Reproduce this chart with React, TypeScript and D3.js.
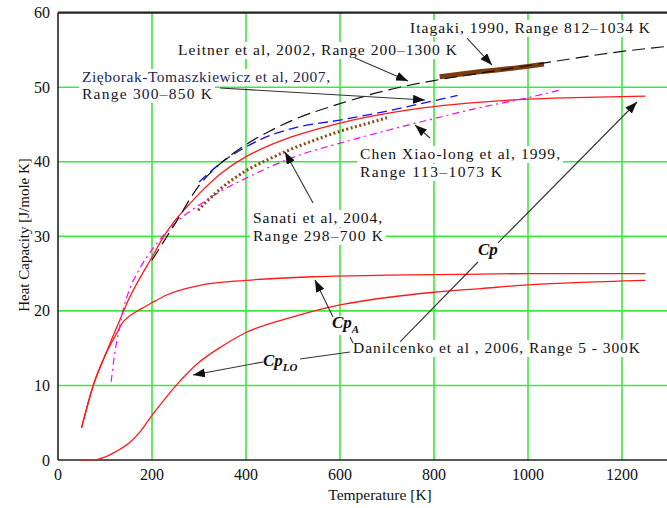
import React from "react";
import * as d3 from "d3";

// ---------- data ----------
const xTicks = [0, 200, 400, 600, 800, 1000, 1200];
const yTicks = [0, 10, 20, 30, 40, 50, 60];

const cpT = [50, 75, 100, 125, 150, 175, 200, 225, 250, 275, 300, 350, 400, 450, 500, 600, 700, 800, 900, 1000, 1100, 1250];
const cpV = [4.3, 10, 14, 17.8, 21.5, 24.5, 27.2, 30.0, 32.2, 34.0, 35.7, 38.6, 40.7, 42.2, 43.4, 45.2, 46.5, 47.4, 48.0, 48.4, 48.6, 48.8];

const cpAT = [50, 75, 100, 125, 137, 150, 175, 200, 230, 300, 400, 550, 700, 850, 1000, 1250];
const cpAV = [4.3, 10, 14, 17.0, 18.4, 19.2, 20.2, 21.1, 22.1, 23.4, 24.1, 24.6, 24.8, 24.9, 25.0, 25.0];

const cpLOT = [50, 80, 100, 125, 150, 175, 200, 225, 250, 300, 350, 400, 500, 600, 700, 800, 900, 1000, 1100, 1250];
const cpLOV = [0, 0.05, 0.4, 1.2, 2.2, 3.8, 6.0, 8.0, 9.9, 13.1, 15.3, 17.1, 19.2, 20.8, 21.8, 22.5, 23.0, 23.5, 23.8, 24.1];

const leitnerT = [200, 250, 300, 350, 400, 450, 500, 600, 700, 800, 900, 1000, 1100, 1200, 1300];
const leitnerV = [26.8, 31.8, 36.8, 40.0, 42.3, 44.1, 45.6, 47.8, 49.6, 50.9, 51.9, 52.9, 53.9, 54.8, 55.5];

const ziebT = [300, 350, 400, 450, 500, 600, 700, 800, 850];
const ziebV = [37.3, 40.0, 42.0, 43.5, 44.5, 45.6, 46.8, 48.2, 48.9];

const chenT = [113, 120, 130, 140, 150, 175, 200, 250, 300, 350, 400, 450, 500, 600, 700, 800, 900, 1000, 1073];
const chenV = [10.5, 14.0, 17.5, 20.5, 22.5, 25.8, 28.2, 31.8, 34.2, 36.2, 37.8, 39.3, 40.6, 42.5, 44.2, 45.8, 47.3, 48.6, 49.7];

const sanatiT = [298, 325, 350, 400, 450, 500, 550, 600, 650, 700];
const sanatiV = [33.5, 35.2, 36.6, 38.8, 40.4, 41.8, 43.0, 44.1, 45.0, 45.9];

const itagakiT = [812, 900, 1000, 1034];
const itagakiV = [51.4, 52.1, 52.8, 53.1];

// annotations (data coordinates)
const labelTexts = [
  "Itagaki, 1990, Range 812\u20131034 K",
  "Leitner et al, 2002, Range 200\u20131300 K",
  "Zi\u0119borak-Tomaszkiewicz et al, 2007,",
  "Range 300\u2013850 K",
  "Chen Xiao-long et al, 1999,",
  "Range 113\u20131073 K",
  "Sanati et al, 2004,",
  "Range 298\u2013700 K",
  "Danilcenko et al , 2006, Range 5 - 300K",
];
const labelT = [749, 255.3, 51.1, 51.1, 642.6, 642.6, 414.9, 414.9, 627.7];
const labelV = [57.28, 54.33, 50.7, 48.42, 40.38, 37.97, 31.79, 29.38, 14.35];
const labelW = [240, 279, 248, 130, 200, 142, 129, 130, 287];
const labelColor = ["#111", "#111", "#1e1e5a", "#151530", "#111", "#111", "#111", "#111", "#111"];

const arrowsFrom = [
  [870.2, 56.6], [631.9, 53.92], [344.7, 49.9], [791.5, 43.19], [542.6, 34.47],
  [936.2, 29.11], [585.1, 19.18], [436.2, 13.15],
];
const arrowsTo = [
  [923.4, 52.98], [744.7, 50.84], [780.9, 48.29], [759.6, 44.94], [483.0, 41.31],
  [1231.9, 48.02], [546.8, 24.14], [287.2, 11.4],
];
const leadersFrom = [[727.7, 15.83], [621.3, 16.5], [621.3, 14.49]];
const leadersTo = [[893.6, 26.56], [627.7, 15.69], [514.9, 13.55]];

const W = 667, H = 508;
const x = d3.scaleLinear().domain([0, 1300]).range([58, 669]);
const y = d3.scaleLinear().domain([0, 60]).range([460, 12.7]);

function mk(ts: number[], vs: number[]) {
  return d3.line<number>().x((_, i) => x(ts[i])).y((v) => y(v)).curve(d3.curveMonotoneX)(vs) as string;
}

const TS: React.CSSProperties = { fontFamily: '"Liberation Serif", "DejaVu Serif", serif' };

export default function App() {
  const gridColor = "#3fe83f";
  return (
    <svg width={W} height={H} style={{ position: "fixed", left: 0, top: 0, background: "#fff" }}>
      <defs>
        <marker id="ah" markerUnits="userSpaceOnUse" markerWidth="13" markerHeight="9" refX="12" refY="4.5" orient="auto">
          <path d="M0,0 L12,4.5 L0,9 z" fill="#111" />
        </marker>
      </defs>
      <rect x={0} y={0} width={W} height={H} fill="#fff" />
      {xTicks.filter((t) => t > 0).map((t) => (
        <line key={"gx" + t} x1={x(t)} x2={x(t)} y1={y(60)} y2={y(0)} stroke={gridColor} strokeWidth={1.6} />
      ))}
      {yTicks.filter((t) => t > 0 && t < 60).map((t) => (
        <line key={"gy" + t} x1={x(0)} x2={W} y1={y(t)} y2={y(t)} stroke={gridColor} strokeWidth={1.6} />
      ))}
      {labelTexts.map((s, i) => (
        <rect key={"bx" + i} x={x(labelT[i]) - 3} y={y(labelV[i]) - 13} width={labelW[i] + 6} height={17} fill="#fff" />
      ))}
      <rect x={x(893.6) - 3} y={y(27.5) - 13} width={27} height={18} fill="#fff" />
      <rect x={x(583) - 2} y={y(17.71) - 12} width={31} height={19} fill="#fff" />
      <rect x={x(436.2) - 2} y={y(12.61) - 12} width={42} height={19} fill="#fff" />

      <line x1={x(0)} x2={x(0)} y1={y(60)} y2={y(0)} stroke="#222" strokeWidth={1.6} />
      <line x1={x(0)} x2={W} y1={y(0)} y2={y(0)} stroke="#222" strokeWidth={1.6} />
      <line x1={x(0)} x2={W} y1={y(60)} y2={y(60)} stroke="#222" strokeWidth={2.2} />

      <path d={mk(itagakiT, itagakiV)} fill="none" stroke="#7a3c0c" strokeWidth={5} />
      <path d={mk(cpT, cpV)} fill="none" stroke="#ff1a1a" strokeWidth={1.3} />
      <path d={mk(cpAT, cpAV)} fill="none" stroke="#ff1a1a" strokeWidth={1.3} />
      <path d={mk(cpLOT, cpLOV)} fill="none" stroke="#ff1a1a" strokeWidth={1.3} />
      <path d={mk(chenT, chenV)} fill="none" stroke="#ff00ff" strokeWidth={1.2} strokeDasharray="7,4,2,4" />
      <path d={mk(sanatiT, sanatiV)} fill="none" stroke="#8b4a1a" strokeWidth={3} strokeDasharray="2,2.5" />
      <path d={mk(ziebT, ziebV)} fill="none" stroke="#1010ff" strokeWidth={1.3} strokeDasharray="10,5" />
      <path d={mk(leitnerT, leitnerV)} fill="none" stroke="#111" strokeWidth={1.2} strokeDasharray="13,6" />

      {leadersFrom.map((p, i) => (
        <line key={"ld" + i} x1={x(p[0])} y1={y(p[1])} x2={x(leadersTo[i][0])} y2={y(leadersTo[i][1])} stroke="#333" strokeWidth={1.1} />
      ))}
      {arrowsFrom.map((p, i) => (
        <line key={"ar" + i} x1={x(p[0])} y1={y(p[1])} x2={x(arrowsTo[i][0])} y2={y(arrowsTo[i][1])} stroke="#333" strokeWidth={1.1} markerEnd="url(#ah)" />
      ))}

      {labelTexts.map((s, i) => (
        <text key={"lb" + i} style={TS} x={x(labelT[i])} y={y(labelV[i])} fontSize={15.5} fill={labelColor[i]} textLength={labelW[i]} lengthAdjust="spacing">{s}</text>
      ))}
      <text style={TS} x={x(893.6)} y={y(27.5)} fontSize={17} fontWeight="bold" fontStyle="italic" fill="#111">Cp</text>
      <text style={TS} x={x(583)} y={y(17.71)} fontSize={17} fontWeight="bold" fontStyle="italic" fill="#111">
        Cp<tspan fontSize={11} dy={5}>A</tspan>
      </text>
      <text style={TS} x={x(436.2)} y={y(12.61)} fontSize={17} fontWeight="bold" fontStyle="italic" fill="#111">
        Cp<tspan fontSize={11} dy={5}>LO</tspan>
      </text>

      {yTicks.map((t) => (
        <text key={"yt" + t} style={TS} x={50} y={y(t) + 5.5} textAnchor="end" fontSize={16} fill="#111">{t}</text>
      ))}
      {xTicks.map((t) => (
        <text key={"xt" + t} style={TS} x={x(t)} y={480} textAnchor="middle" fontSize={16} fill="#111">{t}</text>
      ))}
      <text style={TS} x={380} y={500} textAnchor="middle" fontSize={15.5} fill="#111">Temperature [K]</text>
      <text style={TS} transform={`translate(29,${235}) rotate(-90)`} textAnchor="middle" fontSize={15} fill="#111">Heat Capacity [J/mole K]</text>
    </svg>
  );
}
